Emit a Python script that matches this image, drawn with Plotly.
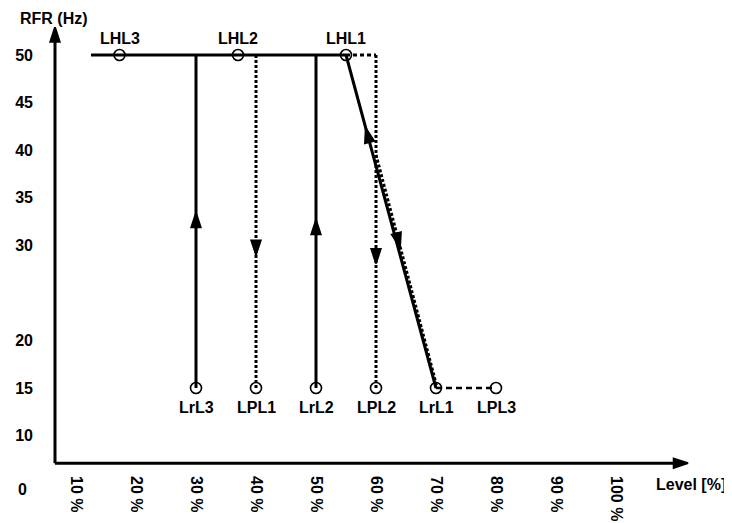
import math
import plotly.graph_objects as go

# ---------------- data ----------------
x_tick_vals = [10, 20, 30, 40, 50, 60, 70, 80, 90, 100]
x_tick_text = ["10 %", "20 %", "30 %", "40 %", "50 %", "60 %", "70 %", "80 %", "90 %", "100 %"]
y_tick_vals = [10, 15, 20, 30, 35, 40, 45, 50]
y_tick_text = ["10", "15", "20", "30", "35", "40", "45", "50"]
y_zero_label = "0"

rfr_high = 50
rfr_low = 15

# solid (rising) paths
solid_top_x = [12.5, 55]
rise_x = [30, 50]                    # LrL3, LrL2 verticals
diag_solid_x = [55, 70]
diag_solid_y = [50, 15]

# dotted (falling) paths
dot_top_x = [55, 60]
fall_x = [40, 60]                    # LPL1, LPL2 verticals
diag_dot_x = [60.0, 70.2]
diag_dot_y = [39.5, 15]
dash_bot_x = [70, 80]

# labelled points
top_names = ["LHL3", "LHL2", "LHL1"]
top_x = [17.25, 37, 55]
bot_names = ["LrL3", "LPL1", "LrL2", "LPL2", "LrL1", "LPL3"]
bot_x = [30, 40, 50, 60, 70, 80]

# arrow tips on the lines
up_arrow_x = [30, 50, 58.3]
up_arrow_y = [33.4, 32.65, 42.3]
down_arrow_x = [40, 60, 64.0]
down_arrow_y = [29.0, 28.1, 29.8]

# axes
axis_origin_x = 6.5
axis_origin_y = 7.1
axis_x_end = 112.0
axis_y_end = 52.9

# ---------------- layout geometry ----------------
OFF = 8                      # default page body margin
PAGE_W, PAGE_H = 732, 523
W, H = PAGE_W - OFF, PAGE_H - OFF
PX_PER_PCT = 6.0
X0_PX = 16.0                 # page px of 0 %
PX_PER_HZ = 333.0 / 35.0
Y50_PX = 55.0                # page px of 50 Hz
# plot area edges in page px
PL, PR, PT, PB = 50, 702, 14, 468
L, R, T, B = PL - OFF, PAGE_W - PR, PT - OFF, PAGE_H - PB
xmin = (PL - X0_PX) / PX_PER_PCT
xmax = (PR - X0_PX) / PX_PER_PCT
ymax = 50 + (Y50_PX - PT) / PX_PER_HZ
ymin = 50 - (PB - Y50_PX) / PX_PER_HZ

def paper_x(px):
    return (px - PL) / (PR - PL)

def paper_y(py):
    return (PB - py) / (PB - PT)

FONT = "Liberation Sans, Arial, sans-serif"
BLACK = "#000000"
DOT = "3px,2px"

def ang(dx, dy):
    """clockwise marker angle for an up-pointing arrow symbol, from data deltas"""
    px = dx * PX_PER_PCT
    py = -dy * PX_PER_HZ
    return math.degrees(math.atan2(px, -py))

fig = go.Figure()

def line(x, y, dash="solid", width=3):
    fig.add_trace(go.Scatter(x=x, y=y, mode="lines", cliponaxis=False,
                             line=dict(color=BLACK, width=width, dash=dash),
                             hoverinfo="skip", showlegend=False))

# dotted paths (under the solid ones)
line(dot_top_x, [rfr_high, rfr_high], dash="4px,3px", width=3)
for xv in fall_x:
    line([xv, xv], [rfr_high, rfr_low], dash=DOT, width=3)
line(diag_dot_x, diag_dot_y, dash=DOT, width=3)
line(dash_bot_x, [rfr_low, rfr_low], dash="6px,4px", width=2.5)

# solid paths
line(solid_top_x, [rfr_high, rfr_high])
for xv in rise_x:
    line([xv, xv], [rfr_high, rfr_low])
line(diag_solid_x, diag_solid_y)

# axes lines
line([axis_origin_x, axis_origin_x], [axis_origin_y, axis_y_end - 1.0])
line([axis_origin_x, axis_x_end - 2.0], [axis_origin_y, axis_origin_y])

# arrow heads
diag_up_angle = ang(diag_solid_x[0] - diag_solid_x[1], diag_solid_y[0] - diag_solid_y[1])
diag_dn_angle = ang(diag_dot_x[1] - diag_dot_x[0], diag_dot_y[1] - diag_dot_y[0])
up_angles = [0, 0, diag_up_angle]
down_angles = [180, 180, diag_dn_angle]
arrow_marker = dict(symbol="arrow", size=15, color=BLACK, line=dict(color=BLACK, width=2))
fig.add_trace(go.Scatter(x=up_arrow_x + down_arrow_x, y=up_arrow_y + down_arrow_y,
                         mode="markers", cliponaxis=False,
                         marker=dict(arrow_marker, angle=up_angles + down_angles),
                         hoverinfo="skip", showlegend=False))
fig.add_trace(go.Scatter(x=[axis_origin_x, axis_x_end], y=[axis_y_end, axis_origin_y],
                         mode="markers", cliponaxis=False,
                         marker=dict(arrow_marker, angle=[0, 90]),
                         hoverinfo="skip", showlegend=False))

# circles
fig.add_trace(go.Scatter(x=top_x + bot_x,
                         y=[rfr_high] * len(top_x) + [rfr_low] * len(bot_x),
                         mode="markers", cliponaxis=False,
                         marker=dict(symbol="circle-open", size=11, color=BLACK,
                                     line=dict(color=BLACK, width=1.6)),
                         hoverinfo="skip", showlegend=False))

# point labels
lab_font = dict(family=FONT, size=16, color=BLACK, weight="bold")
for n, xv in zip(top_names, top_x):
    fig.add_annotation(x=xv, y=rfr_high, text=n, showarrow=False, yshift=17, font=lab_font,
                       xanchor="center", yanchor="middle")
for n, xv in zip(bot_names, bot_x):
    fig.add_annotation(x=xv, y=rfr_low, text=n, showarrow=False, yshift=-19, font=lab_font,
                       xanchor="center", yanchor="middle")

# axis titles and the zero label
fig.add_annotation(xref="paper", yref="paper", x=paper_x(54), y=paper_y(19), text="RFR (Hz)",
                   showarrow=False, font=lab_font, xanchor="center", yanchor="middle")
fig.add_annotation(xref="paper", yref="paper", x=paper_x(728), y=paper_y(484),
                   text="Level [%]", showarrow=False, font=lab_font,
                   xanchor="right", yanchor="middle")
fig.add_annotation(xref="paper", yref="paper", x=paper_x(22.5), y=paper_y(490),
                   text=y_zero_label, showarrow=False, font=lab_font,
                   xanchor="center", yanchor="middle")

fig.update_layout(
    width=W, height=H,
    margin=dict(l=L, r=R, t=T, b=B, pad=0, autoexpand=False),
    paper_bgcolor="white", plot_bgcolor="white",
    showlegend=False,
    xaxis=dict(range=[xmin, xmax], showgrid=False, zeroline=False, showline=False,
               tickmode="array", tickvals=x_tick_vals, ticktext=x_tick_text,
               tickangle=90, ticks="", ticklabelstandoff=7, automargin=False,
               tickfont=dict(family=FONT, size=16, color=BLACK, weight="bold"),
               fixedrange=True),
    yaxis=dict(range=[ymin, ymax], showgrid=False, zeroline=False, showline=False,
               tickmode="array", tickvals=y_tick_vals, ticktext=y_tick_text,
               ticks="", ticklabelstandoff=16, automargin=False,
               tickfont=dict(family=FONT, size=16, color=BLACK, weight="bold"),
               fixedrange=True),
)

fig.write_html("out.html")
